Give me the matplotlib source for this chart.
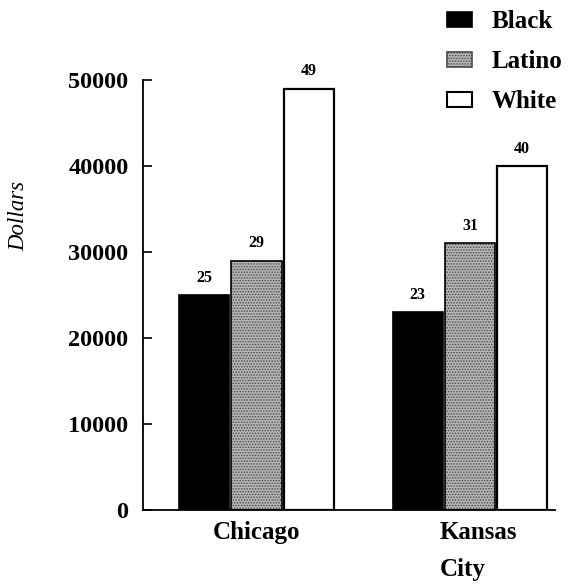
import numpy as np
import matplotlib
matplotlib.use("Agg")
import matplotlib.pyplot as plt
from matplotlib.patches import Patch

plt.rcParams["font.family"] = ["Liberation Serif", "DejaVu Serif"]
plt.rcParams["hatch.linewidth"] = 0.7

cities = ["Chicago", "Kansas\nCity"]
groups = ["Black", "Latino", "White"]
black = [25000, 23000]
latino = [29000, 31000]
white = [49000, 40000]
value_labels = [["25", "23"], ["29", "31"], ["49", "40"]]

fig = plt.figure(figsize=(5.72, 5.84), dpi=100)
ax = fig.add_axes([0.25, 0.1267, 0.72, 0.7363])

x = np.arange(len(cities))
width = 0.235
offsets = [-0.245, 0.0, 0.245]
gray = "#b4b4b4"
dots = "#4a4a4a"

# black bars
ax.bar(x + offsets[0], black, width, color="black", edgecolor="black", lw=1.2)
# stippled gray bars: dotted fill first, black outline on top
ax.bar(x + offsets[1], latino, width, color=gray, edgecolor=dots,
       hatch="......", lw=0)
ax.bar(x + offsets[1], latino, width, fill=False, edgecolor="black", lw=1.2)
# white bars
ax.bar(x + offsets[2], white, width, color="white", edgecolor="black", lw=1.6)

for series, labels, off in zip([black, latino, white], value_labels, offsets):
    for xi, v, lab in zip(x, series, labels):
        ax.text(xi + off, v + 1100, lab, ha="center", va="bottom",
                fontsize=11.5, fontweight="bold", clip_on=False)

ax.set_xlim(-0.532, 1.398)
ax.set_ylim(0, 50000)
ax.set_yticks(np.arange(0, 50001, 10000))
ax.set_yticklabels([str(v) for v in range(0, 50001, 10000)],
                   fontsize=17.5, fontweight="bold")
ax.tick_params(axis="y", direction="in", length=6.5, width=1.2, pad=10.5)

ax.set_xticks([0, 1.04])
ax.set_xticklabels(cities, fontsize=18, fontweight="bold",
                   multialignment="left", va="top", linespacing=1.75)
ax.tick_params(axis="x", length=0, pad=8)

for side in ["top", "right"]:
    ax.spines[side].set_visible(False)
ax.spines["left"].set_linewidth(1.3)
ax.spines["bottom"].set_linewidth(1.3)

fig.text(0.033, 0.63, "Dollars", rotation=90, ha="center", va="center",
         fontsize=16.5, fontstyle="italic")

handles = [
    Patch(facecolor="black", edgecolor="black", lw=1.2),
    Patch(facecolor=gray, edgecolor=dots, hatch="......", lw=1.2),
    Patch(facecolor="white", edgecolor="black", lw=1.5),
]
fig.legend(handles, groups, loc="upper left",
           bbox_to_anchor=(447 / 572, 0.983),
           frameon=False, prop={"size": 18, "weight": "bold"},
           handlelength=1.0, handleheight=0.55, handletextpad=0.8,
           labelspacing=0.68, borderpad=0, borderaxespad=0)

fig.savefig("out.png", dpi=100)
